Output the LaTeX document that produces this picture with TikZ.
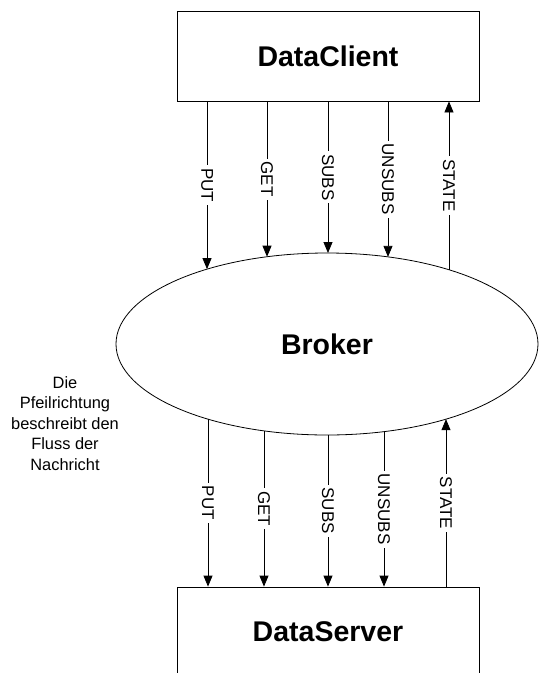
\documentclass[tikz,border=0pt]{standalone}
\usepackage{fontspec}
\setmainfont{Liberation Sans}
\usetikzlibrary{arrows.meta,shapes.geometric,intersections}
\tikzset{
  box/.style={draw, line width=0.8pt, rectangle, minimum width=302pt, minimum height=90pt, inner sep=0pt, font=\fontsize{28.5}{32}\selectfont\bfseries},
  bubble/.style={draw, line width=0.8pt, ellipse, minimum width=422pt, minimum height=182pt, inner sep=0pt, font=\fontsize{28.5}{32}\selectfont\bfseries},
  arr/.style={line width=0.8pt, -{Triangle[length=11pt,width=9pt]}},
  lab/.style={rotate=-90, fill=white, inner xsep=3pt, inner ysep=0pt, font=\fontsize{17}{20}\selectfont},
  note/.style={align=center, inner sep=0pt, font=\fontsize{16.4}{20.5}\selectfont}
}
\begin{document}
\begin{tikzpicture}[x=1pt,y=-1pt]
\useasboundingbox (0,0) rectangle (539,673);
\clip (0,0) rectangle (539,673);
\fill[white] (0,0) rectangle (539,673);
\node[box] (DataClient) at (328,56) {DataClient};
\node[box] (DataServer) at (328,632) {DataServer};
\node[bubble, name path=broker] (Broker) at (327,344) {Broker};
\node[note, anchor=north] (Note) at (65,376) {Die\\Pfeilrichtung\\beschreibt den\\Fluss der\\Nachricht};
% top connectors
\foreach \x/\lab [count=\i] in {207/PUT,267/GET,328/SUBS,388/UNSUBS} {
  \path[name path=vt\i] (\x,101) -- (\x,344);
  \path[name intersections={of=broker and vt\i, by={bt\i}}];
  \draw[arr] (DataClient.south -| bt\i) -- node[lab] {\lab} (bt\i);
}
\path[name path=vt5] (449,101) -- (449,344);
\path[name intersections={of=broker and vt5, by={bt5}}];
\draw[arr] (bt5) -- node[lab] {STATE} (DataClient.south -| bt5);
% bottom connectors
\foreach \x/\lab [count=\i] in {208/PUT,264/GET,328/SUBS,384/UNSUBS} {
  \path[name path=vb\i] (\x,344) -- (\x,587);
  \path[name intersections={of=broker and vb\i, by={bb\i}}];
  \draw[arr] (bb\i) -- node[lab] {\lab} (DataServer.north -| bb\i);
}
\path[name path=vb5] (446,344) -- (446,587);
\path[name intersections={of=broker and vb5, by={bb5}}];
\draw[arr] (DataServer.north -| bb5) -- node[lab] {STATE} (bb5);
\end{tikzpicture}
\end{document}
